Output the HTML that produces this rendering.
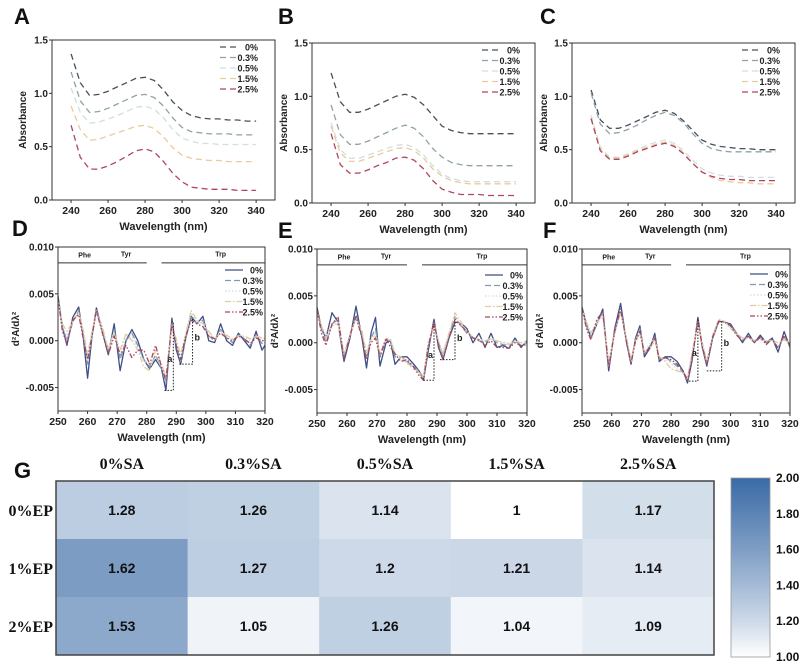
<!DOCTYPE html>
<html><head><meta charset="utf-8"><style>
body{margin:0;background:#fff;}
svg{display:block;font-family:"Liberation Sans",Arial,sans-serif;}
</style></head><body>
<svg id="fig" width="802" height="669" viewBox="0 0 802 669" xmlns="http://www.w3.org/2000/svg"></svg>
<script>
// ---------- data ----------
const absWl = [240,245,250,255,260,265,270,275,280,285,290,295,300,305,310,315,320,325,330,335,340];
const seriesLabels = ["0%","0.3%","0.5%","1.5%","2.5%"];
const A0 = [1.37,1.10,0.98,0.99,1.02,1.06,1.10,1.14,1.15,1.12,1.03,0.92,0.84,0.79,0.77,0.76,0.76,0.75,0.75,0.74,0.74];
const A03 = [1.20,0.93,0.82,0.83,0.86,0.90,0.94,0.98,0.99,0.96,0.88,0.77,0.68,0.64,0.63,0.62,0.62,0.62,0.61,0.61,0.61];
const A05 = [1.05,0.82,0.72,0.73,0.76,0.79,0.83,0.87,0.88,0.85,0.77,0.66,0.58,0.55,0.53,0.53,0.52,0.52,0.52,0.52,0.52];
const A15 = [0.88,0.66,0.56,0.57,0.60,0.63,0.66,0.69,0.70,0.67,0.59,0.49,0.42,0.39,0.38,0.37,0.37,0.36,0.36,0.36,0.36];
const A25 = [0.70,0.40,0.29,0.29,0.32,0.36,0.41,0.46,0.48,0.45,0.36,0.25,0.17,0.12,0.11,0.10,0.10,0.10,0.09,0.09,0.09];
const B0 = [1.22,0.95,0.85,0.85,0.88,0.92,0.96,1.00,1.02,0.99,0.92,0.82,0.72,0.68,0.66,0.65,0.65,0.65,0.65,0.65,0.65];
const B03 = [0.92,0.64,0.55,0.55,0.58,0.62,0.66,0.70,0.73,0.70,0.62,0.51,0.43,0.38,0.36,0.35,0.35,0.35,0.35,0.35,0.35];
const B05 = [0.75,0.50,0.42,0.42,0.45,0.48,0.51,0.54,0.55,0.52,0.45,0.35,0.27,0.23,0.21,0.20,0.20,0.20,0.20,0.20,0.20];
const B15 = [0.72,0.47,0.39,0.39,0.42,0.45,0.48,0.51,0.52,0.49,0.42,0.32,0.25,0.21,0.19,0.18,0.18,0.18,0.18,0.18,0.18];
const B25 = [0.65,0.36,0.28,0.28,0.31,0.35,0.38,0.42,0.43,0.40,0.32,0.21,0.13,0.10,0.08,0.08,0.08,0.07,0.07,0.07,0.07];
const C0 = [1.06,0.78,0.70,0.70,0.73,0.77,0.81,0.85,0.87,0.84,0.77,0.68,0.59,0.55,0.53,0.52,0.51,0.51,0.50,0.50,0.50];
const C03 = [1.03,0.74,0.65,0.66,0.69,0.73,0.78,0.82,0.85,0.82,0.75,0.65,0.56,0.51,0.49,0.48,0.48,0.48,0.48,0.48,0.48];
const C05 = [0.82,0.52,0.43,0.43,0.46,0.50,0.54,0.57,0.59,0.56,0.49,0.40,0.32,0.28,0.26,0.25,0.25,0.24,0.24,0.24,0.24];
const C15 = [0.80,0.50,0.42,0.42,0.45,0.49,0.52,0.55,0.57,0.54,0.47,0.37,0.29,0.24,0.21,0.20,0.19,0.19,0.18,0.18,0.18];
const C25 = [0.79,0.49,0.41,0.41,0.44,0.48,0.51,0.54,0.56,0.53,0.46,0.37,0.29,0.25,0.23,0.22,0.22,0.21,0.21,0.21,0.21];

const dWlD = [250,251.5,253,255,257,258.5,260,261.5,263,265,267,269,271,273,275,277,279,281,283,285,286.5,288.5,290,291.5,293,295,297,299,301,303,305,307,309,311,313,315,317,319,320];
const D0 = [4.8,1.5,-0.5,2.5,3.6,0.5,-4,0.5,3.5,1,-1.5,1.8,-3.2,0,1.2,0,-2,-3,-2,-3,-5.3,2.4,-1,-2.5,0,2.6,1.8,2.6,0,-0.2,1.8,0,-0.5,0.8,0,-0.8,1,-1,-0.5];
const D03 = [4.5,1.5,0,2,3.2,0.8,-2.5,0.5,3.2,1,-1,1.2,-2,0,0.8,-0.5,-2,-2.8,-1.5,-3,-4.5,2,-0.5,-2.2,0,2.5,1.8,2.2,0.5,0,1.2,0.3,-0.2,0.6,0.2,-0.5,0.6,-0.3,0];
const D05 = [4.4,1.6,0.5,2.2,3,1,-2,0.8,3,1.2,-0.8,1,-1.5,0.5,0.5,-0.8,-2.2,-2.5,-1.8,-2.8,-4,1.8,0,-1.8,0.5,3,2,2,0.8,0.2,1,0.5,0,0.6,0.4,0,0.5,0.2,0.2];
const D15 = [4.2,1.8,1,2,3,1.2,-1.5,1,3.2,1.5,-1,0.8,-1,0.8,0,-1,-2.8,-3.2,-1,-2.5,-3.8,1.5,0.2,-1.5,0.5,3.2,2.2,1.8,1,0.2,0.8,0.6,0.2,0.5,0.5,0.2,0.5,0.3,0.2];
const D25 = [4.6,1,-0.3,2.2,2.8,0.3,-2,0.5,3.2,0.8,-1.5,0.5,-1.5,-0.5,-1.8,-1,-1,-2.5,-0.5,-2.8,-4.2,1.8,-0.5,-2,0.3,2.2,1.8,1.5,0.5,0.2,0.8,0.3,0,0.5,0.2,-0.3,0.3,0,0];
const dWlEF = [250,251.5,253,255,257,259,261,263,265,266.5,268,269.5,271,273,274.5,276,278,280,282,284,285.5,287,289,290.5,292,294,296,298,300,302,304,306,308,310,312,314,316,318,320];
const E0 = [3.8,1.5,0.5,3.2,2.2,-2,0.5,3.9,0.5,-2.7,1,2.7,-2.5,0,0.2,-2.3,-1.5,-1.5,-2.2,-3,-4,-1,2.5,-0.5,-1.8,0.5,2.2,2.1,1.5,0,1,-0.5,1,-0.5,-0.3,-0.6,0.5,-0.5,0.2];
const E03 = [3.5,1.5,0,2,2.5,-1.5,0.8,3,0.8,-1.5,0.5,1.5,-1.5,0.3,0.2,-1.5,-1.5,-2,-2.5,-3,-3.8,-0.5,2,0,-1.5,0.8,2.8,1.8,1,0.5,0.2,0,0.5,0,-0.2,-0.3,0.2,-0.3,0];
const E05 = [3.2,1.8,0.8,1.8,2.2,-1,1,2.5,1,-1,0.5,1,-1,0.5,0.4,-1,-1.8,-2.2,-2.8,-3.2,-3.5,0,1.8,0.2,-1,1,2.8,2,1.2,0.6,0.4,0.2,0.4,0.2,0,0,0.2,0,0];
const E15 = [3,1.8,0.5,1.8,2,-1.2,0.8,2.6,1.2,-1.2,0.3,0.8,-1.2,0.3,0.3,-1.2,-1.5,-2.2,-2.6,-3.2,-3.8,-0.3,2,0.2,-1.2,1,3.2,2.2,1.2,0.6,0.3,0.2,0.5,0.2,0,-0.2,0.2,0,0.2];
const E25 = [3.6,1,-0.3,2,2.8,-1.8,0.8,2.8,0.5,-1.8,0,0.5,-1.5,0.5,-0.5,-1.2,-2,-1.8,-2.5,-3.5,-4,-0.5,2.2,-0.3,-1.8,0.5,2.5,1.8,1.2,0.5,0.3,-0.3,0.2,-0.5,-0.5,-0.6,0,-0.3,-0.2];
const F0 = [3.8,2,0.5,2,3.6,-3,1.5,4.2,0,-2.3,0.5,1.8,-1.5,-0.5,1,-2,-1.5,-1.5,-2,-3,-4.3,-2,2.7,-0.5,-2.5,0.5,2.3,2.2,2,1,0,1,0,0.8,0,0.5,-1,1.2,-0.5];
const F03 = [3.6,1.8,0.5,2.2,3.2,-2.5,1.2,3.5,0.2,-2,0.3,1.5,-1.2,-0.3,0.6,-1.8,-1.5,-2,-2.5,-3.2,-4,-1.5,2.2,-0.3,-2.2,0.5,2.2,2.2,1.8,1,0.3,0.6,0.2,0.5,0,0.3,-0.5,0.6,-0.3];
const F05 = [3.4,2,1,2,3,-2,1.2,3.2,0.5,-1.8,0.3,1.2,-1,0,0.5,-1.5,-1.8,-2.2,-2.8,-3.2,-3.8,-1,2,0,-2,0.8,2.4,2.2,1.6,1,0.5,0.5,0.3,0.4,0.2,0.3,0,0.4,0];
const F15 = [3.5,2.2,1,2.2,2.8,-2.2,1,3.3,0.5,-2,0,1,-1,-0.5,0.2,-1.5,-2,-2.8,-3,-3.2,-3.8,-1.2,2.2,0,-2,0.8,2.5,2.3,1.5,1,0.5,0.5,0.2,0.3,0.2,0.2,0,0.3,0];
const F25 = [3.7,1.5,0.3,2.5,3.3,-2.6,1.2,3.6,0,-2.2,0.2,1.2,-1.2,-0.4,0.5,-1.8,-1.6,-1.8,-2.3,-3,-4,-1.8,2.4,-0.4,-2.3,0.6,2.3,2.2,1.8,0.8,0.2,0.7,0,0.6,-0.2,0.4,-0.6,0.8,-0.3];

const absXTicks = [240,260,280,300,320,340];
const absYTicks = [0,0.5,1.0,1.5];
const absYTickLabels = ["0.0","0.5","1.0","1.5"];
const dXTicks = [250,260,270,280,290,300,310,320];
const dYTicks = [-5,0,5,10];
const dYTickLabels = ["-0.005","0.000","0.005","0.010"];

const heatCols = ["0%SA","0.3%SA","0.5%SA","1.5%SA","2.5%SA"];
const heatRows = ["0%EP","1%EP","2%EP"];
const heatVals = [[1.28,1.26,1.14,1,1.17],[1.62,1.27,1.2,1.21,1.14],[1.53,1.05,1.26,1.04,1.09]];
const cbTicks = ["1.00","1.20","1.40","1.60","1.80","2.00"];

// ---------- helpers ----------
const NS="http://www.w3.org/2000/svg";
const svg=document.getElementById('fig');
function el(tag,attrs,name,parent){
  const e=document.createElementNS(NS,tag);
  for(const k in attrs)e.setAttribute(k,attrs[k]);
  
  
  (parent||svg).appendChild(e);return e;
}
function txt(x,y,s,name,opt){
  const t=el('text',Object.assign({x:x,y:y,'font-size':10,'font-weight':'bold',fill:'#222'},opt||{}),name);
  t.textContent=s;return t;
}
const absColors=["#4a4f5c","#8fa2a6","#cfe0de","#eacb9c","#b04560"];
const absDash=["6,4","6,4","6,4","6,4","6,4"];
const dColors=["#3c4f86","#8497ad","#cbdedd","#e2cba2","#a9435e"];
const dDash=["","6,3","1.5,2","6,2,1.5,2","5,2,1.5,2,1.5,2"];

function panel(cfg){
  const sx=v=>cfg.L+(v-cfg.x0)/(cfg.x1-cfg.x0)*(cfg.R-cfg.L);
  const sy=v=>cfg.B-(v-cfg.y0)/(cfg.y1-cfg.y0)*(cfg.B-cfg.T);
  const g=el('g',{},cfg.id+'-panel');
  cfg.series.forEach((vals,i)=>{
    const pts=vals.map((v,j)=>sx(cfg.wl[j]).toFixed(1)+','+sy(v).toFixed(1)).join(' ');
    el('polyline',{points:pts,fill:'none',stroke:cfg.colors[i],'stroke-width':1.3,'stroke-dasharray':cfg.dash[i],'stroke-linejoin':'round'},cfg.id+'-series-'+seriesLabels[i],g);
  });
  el('rect',{x:cfg.L,y:cfg.T,width:cfg.R-cfg.L,height:cfg.B-cfg.T,fill:'none',stroke:'#333','stroke-width':1},cfg.id+'-plot-frame',g);
  cfg.xt.forEach(v=>{
    el('line',{x1:sx(v),x2:sx(v),y1:cfg.B,y2:cfg.B+3,stroke:'#333'},cfg.id+'-x-tick',g);
    txt(sx(v),cfg.B+14,String(v),cfg.id+'-x-tick-label',{'text-anchor':'middle','font-size':10.5});
  });
  cfg.yt.forEach((v,i)=>{
    el('line',{x1:cfg.L-3,x2:cfg.L,y1:sy(v),y2:sy(v),stroke:'#333'},cfg.id+'-y-tick',g);
    txt(cfg.L-4,sy(v)+3.5,cfg.ytl[i],cfg.id+'-y-tick-label',{'text-anchor':'end'});
  });
  txt((cfg.L+cfg.R)/2,cfg.B+30,'Wavelength (nm)',cfg.id+'-x-axis-title',{'text-anchor':'middle','font-size':11});
  txt(0,0,cfg.ytitle,cfg.id+'-y-axis-title',{'text-anchor':'middle',transform:`translate(${cfg.ytx},${(cfg.T+cfg.B)/2}) rotate(-90)`});
  txt(cfg.lx,cfg.ly,cfg.id.toUpperCase(),cfg.id+'-panel-letter',{'font-size':22,fill:'#111'});
  seriesLabels.forEach((s,i)=>{
    const y=cfg.legY+i*10.5;
    el('line',{x1:cfg.legX,x2:cfg.legX+18,y1:y,y2:y,stroke:cfg.colors[i],'stroke-width':1.3,'stroke-dasharray':cfg.dash[i]},cfg.id+'-legend-line',g);
    txt(cfg.legX+38,y+3.5,s,cfg.id+'-legend-label',{'text-anchor':'end','font-size':9});
  });
  if(cfg.ann){
    const a=cfg.ann;
    el('line',{x1:sx(250),x2:sx(280),y1:sy(8.3),y2:sy(8.3),stroke:'#333'},cfg.id+'-phe-tyr-bar',g);
    el('line',{x1:sx(285),x2:sx(320),y1:sy(8.3),y2:sy(8.3),stroke:'#333'},cfg.id+'-trp-bar',g);
    txt(sx(259),sy(8.9),'Phe',cfg.id+'-phe-label',{'text-anchor':'middle','font-size':7});
    txt(sx(273),sy(9.0),'Tyr',cfg.id+'-tyr-label',{'text-anchor':'middle','font-size':7});
    txt(sx(305),sy(9.0),'Trp',cfg.id+'-trp-label',{'text-anchor':'middle','font-size':7});
    [['a',a.a],['b',a.b]].forEach(([n,b])=>{
      el('polyline',{points:`${sx(b[0])},${sy(b[2])} ${sx(b[1])},${sy(b[2])} ${sx(b[1])},${sy(b[3])}`,fill:'none',stroke:'#222','stroke-dasharray':'1.5,1.5'},cfg.id+'-bracket-'+n,g);
      txt(sx(b[1])+(n=='a'?-6:2),sy((b[2]+b[3])/2)+(n=='a'?6:0),n,cfg.id+'-bracket-label-'+n,{'font-size':9});
    });
  }
}
const absBase={x0:229.7,x1:350.2,y0:0,y1:1.5,wl:absWl,colors:absColors,dash:absDash,xt:absXTicks,yt:absYTicks,ytl:absYTickLabels,ytitle:'Absorbance'};
panel(Object.assign({},absBase,{id:'a',L:52,R:275,T:40,B:200,series:[A0,A03,A05,A15,A25],ytx:26,lx:14,ly:24,legX:220,legY:47}));
panel(Object.assign({},absBase,{id:'b',L:312,R:535,T:43,B:203,series:[B0,B03,B05,B15,B25],ytx:287,lx:278,ly:24,legX:482,legY:50}));
panel(Object.assign({},absBase,{id:'c',L:572,R:795,T:43,B:203,series:[C0,C03,C05,C15,C25],ytx:547,lx:540,ly:24,legX:742,legY:50}));
const dBase={x0:250,x1:320,y0:-7.5,y1:10,colors:dColors,dash:dDash,xt:dXTicks,yt:dYTicks,ytl:dYTickLabels,ytitle:'d²A/dλ²'};
panel(Object.assign({},dBase,{id:'d',L:58,R:265,T:247,B:411,wl:dWlD,series:[D0,D03,D05,D15,D25],ytx:19,lx:12,ly:236,legX:225,legY:270,ann:{a:[286,289,-5.3,2.0],b:[291,295.5,-2.5,2.5]}}));
panel(Object.assign({},dBase,{id:'e',L:317,R:527,T:249,B:413,wl:dWlEF,series:[E0,E03,E05,E15,E25],ytx:278,lx:278,ly:238,legX:485,legY:275,ann:{a:[285.5,289,-4,2],b:[291,296,-1.8,2.2]}}));
panel(Object.assign({},dBase,{id:'f',L:582,R:790,T:249,B:413,wl:dWlEF,series:[F0,F03,F05,F15,F25],ytx:543,lx:543,ly:238,legX:750,legY:274,ann:{a:[286,289,-4.1,2.5],b:[292,297,-3,2.3]}}));

// ---------- heatmap ----------
const HL=56,HR=714,HT=481,HB=655,cbL=731,cbR=770,cbT=478,cbB=657;
function col(v){
  const t=Math.pow(Math.max(0,Math.min(1,v-1)),0.85);
  const c0=[255,255,255],c1=[58,106,166];
  return 'rgb('+c0.map((c,i)=>Math.round(c+(c1[i]-c)*t)).join(',')+')';
}
txt(14,478,'G','g-panel-letter',{'font-size':22,fill:'#111'});
const cw=(HR-HL)/heatCols.length, rh=(HB-HT)/heatRows.length;
heatRows.forEach((r,i)=>{
  heatCols.forEach((c,j)=>{
    el('rect',{x:HL+j*cw,y:HT+i*rh,width:cw+0.5,height:rh+0.5,fill:col(heatVals[i][j])},'heat-cell-'+r+'-'+c);
    txt(HL+(j+0.5)*cw,HT+(i+0.5)*rh+5,String(heatVals[i][j]),'heat-value',{'text-anchor':'middle','font-size':14,fill:'#111'});
  });
  txt(HL-3,HT+(i+0.5)*rh+6,r,'row-label',{'text-anchor':'end','font-size':16,'font-family':'"Liberation Serif",serif',fill:'#111'});
});
heatCols.forEach((c,j)=>txt(HL+(j+0.5)*cw,469,c,'column-label',{'text-anchor':'middle','font-size':16,'font-family':'"Liberation Serif",serif',fill:'#111'}));
el('rect',{x:HL,y:HT,width:HR-HL,height:HB-HT,fill:'none',stroke:'#444','stroke-width':1.5},'heatmap-frame');
const defs=el('defs',{},'defs');
const lg=el('linearGradient',{id:'cbg',x1:0,y1:1,x2:0,y2:0},'colorbar-gradient',defs);
[0,0.2,0.4,0.6,0.8,1].forEach(o=>el('stop',{offset:o,'stop-color':col(1+o)},'gradient-stop',lg));
el('rect',{x:cbL,y:cbT,width:cbR-cbL,height:cbB-cbT,fill:'url(#cbg)',stroke:'#999','stroke-width':0.8},'colorbar');
cbTicks.forEach((s,i)=>txt(cbR+6,cbB-i*(cbB-cbT)/5+4,s,'colorbar-tick-label',{'font-size':12,fill:'#111'}));
</script>
</body></html>
